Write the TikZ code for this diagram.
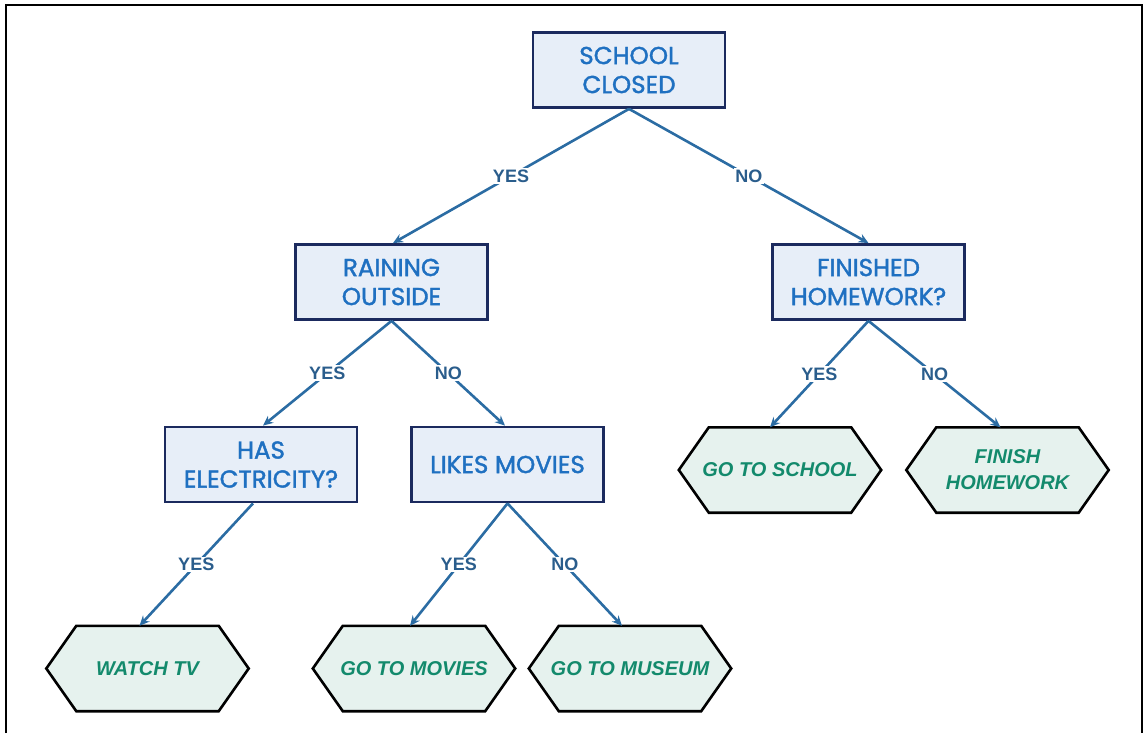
\documentclass[tikz,border=0pt]{standalone}
\usepackage{fontspec}
\setmainfont{Liberation Sans}
\newfontfamily\boxfont{Poppins}[FakeBold=1.6]
\usetikzlibrary{arrows.meta,backgrounds}
\definecolor{boxfill}{HTML}{E7EEF8}
\definecolor{boxborder}{HTML}{1B2A5E}
\definecolor{boxtext}{HTML}{1F70C1}
\definecolor{arrowcol}{HTML}{2B6CA3}
\definecolor{labelcol}{HTML}{2A5D8C}
\definecolor{hexfill}{HTML}{E6F2EE}
\definecolor{hextext}{HTML}{138A6C}
\tikzset{
  qbox/.style={draw=boxborder, line width=2.8pt, fill=boxfill, text=boxtext,
    minimum width=192pt, minimum height=75pt, align=center, inner sep=0pt,
    font=\boxfont\fontsize{24.5}{29}\selectfont},
  leaf/.style={text=hextext, align=center,
    minimum width=202pt, minimum height=85pt, inner sep=0pt,
    font=\bfseries\itshape\fontsize{20}{26}\selectfont},
  hexshape/.style={draw=black, line width=2.6pt, fill=hexfill, line join=miter},
  edge/.style={draw=arrowcol, line width=2.6pt, -{Stealth[length=10pt,width=9pt]}},
  lbl/.style={fill=white, text=labelcol, inner sep=1.5pt,
    font=\bfseries\fontsize{18}{18}\selectfont}
}
\newcommand{\hexof}[1]{\path[hexshape] ([xshift=30pt]#1.north west) -- ([xshift=-30pt]#1.north east) -- (#1.east) -- ([xshift=-30pt]#1.south east) -- ([xshift=30pt]#1.south west) -- (#1.west) -- cycle;}
\begin{document}
\begin{tikzpicture}[x=1pt,y=-1pt]
\useasboundingbox (0,0) rectangle (1147,733);
\draw[line width=2pt] (6,733) -- (6,5) -- (1142,5) -- (1142,733);
\node[qbox] (sc) at (629,70) {SCHOOL\\CLOSED};
\node[qbox] (ro) at (391.5,282) {RAINING\\OUTSIDE};
\node[qbox] (fh) at (868.5,282) {FINISHED\\HOMEWORK?};
\node[qbox] (he) at (261,464.5) {HAS\\ELECTRICITY?};
\node[qbox] (lm) at (507.5,464.5) {LIKES MOVIES};
\node[leaf] (tv) at (147.5,668.5) {WATCH TV};
\node[leaf] (gm) at (414,668.5) {GO TO MOVIES};
\node[leaf] (mu) at (630,668.5) {GO TO MUSEUM};
\node[leaf] (gs) at (780,470) {GO TO SCHOOL};
\node[leaf] (fw) at (1007.5,470) {FINISH\\HOMEWORK};
\begin{scope}[on background layer]
\hexof{tv}\hexof{gm}\hexof{mu}\hexof{gs}\hexof{fw}
\end{scope}
\draw[edge] (sc.south) -- node[lbl]{YES} ([xshift=1.5pt]ro.north);
\draw[edge] (sc.south) -- node[lbl]{NO} (fh.north);
\draw[edge] (ro.south) -- node[lbl]{YES} ([xshift=2pt]he.north);
\draw[edge] (ro.south) -- node[lbl]{NO} ([xshift=-2.5pt]lm.north);
\draw[edge] (fh.south) -- node[lbl]{YES} ([xshift=-10pt]gs.north);
\draw[edge] (fh.south) -- node[lbl]{NO} ([xshift=-7pt]fw.north);
\draw[edge] ([xshift=-8pt]he.south) -- node[lbl]{YES} ([xshift=-8pt]tv.north);
\draw[edge] (lm.south) -- node[lbl]{YES} ([xshift=-4pt]gm.north);
\draw[edge] (lm.south) -- node[lbl]{NO} ([xshift=-8pt]mu.north);
\end{tikzpicture}
\end{document}
